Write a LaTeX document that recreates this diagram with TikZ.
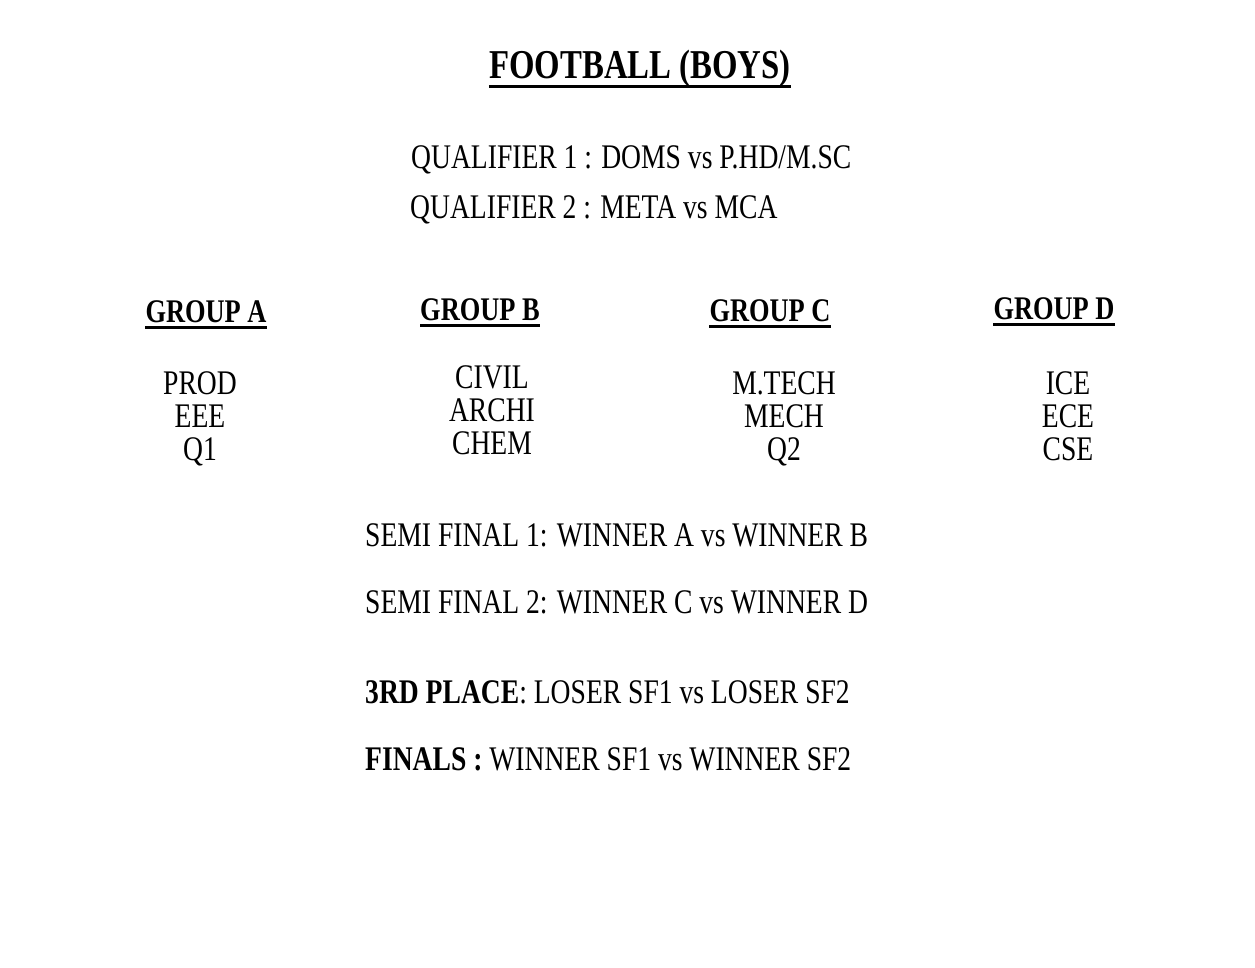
\documentclass[tikz,border=0pt]{standalone}
\usepackage{fontspec}
\setmainfont{Liberation Serif}[FakeStretch=0.8]
\usepackage{tikz}
\tikzstyle{title} = [inner sep=0pt, anchor=base, font=\fontsize{41}{41}\selectfont\bfseries]
\tikzstyle{qual} = [inner sep=0pt, anchor=base west, font=\fontsize{34.5}{34.5}\selectfont]
\tikzstyle{grouphead} = [inner sep=0pt, anchor=base, font=\fontsize{33}{33}\selectfont\bfseries]
\tikzstyle{team} = [inner sep=0pt, anchor=base, font=\fontsize{34.5}{34.5}\selectfont]
\tikzstyle{match} = [inner sep=0pt, anchor=base west, font=\fontsize{34.5}{34.5}\selectfont]
\tikzstyle{uline} = [line width=3pt]

\begin{document}
\begin{tikzpicture}[x=1pt, y=-1pt]
    \fill[white] (0,0) rectangle (1255,967);
    \useasboundingbox (0,0) rectangle (1255,967);

    \node[title] (title) at (640,78) {FOOTBALL (BOYS)};
    \draw[uline] ([yshift=-8pt]title.base west) -- ([yshift=-8pt]title.base east);

    % Qualifiers
    \node[qual] (q1) at (411,168) {QUALIFIER 1 : DOMS vs P.HD/M.SC};
    \node[qual] (q2) at (410,218) {QUALIFIER 2 : META vs MCA};

    % Groups
    \node[grouphead] (ga) at (206,322) {GROUP A};
    \node[grouphead] (gb) at (480,320) {GROUP B};
    \node[grouphead] (gc) at (770,321) {GROUP C};
    \node[grouphead] (gd) at (1054,319) {GROUP D};
    \foreach \g in {ga,gb,gc,gd}
        \draw[uline] ([yshift=-5pt]\g.base west) -- ([yshift=-5pt]\g.base east);

    \foreach \t [count=\i] in {PROD,EEE,Q1}
        \node[team] (a\i) at (200,{394+33*(\i-1)}) {\t};
    \foreach \t [count=\i] in {CIVIL,ARCHI,CHEM}
        \node[team] (b\i) at (492,{388+33*(\i-1)}) {\t};
    \foreach \t [count=\i] in {M.TECH,MECH,Q2}
        \node[team] (c\i) at (784,{394+33*(\i-1)}) {\t};
    \foreach \t [count=\i] in {ICE,ECE,CSE}
        \node[team] (d\i) at (1068,{394+33*(\i-1)}) {\t};

    % Knockouts
    \node[match] (sf1) at (365,546) {SEMI FINAL 1: WINNER A vs WINNER B};
    \node[match] (sf2) at (365,613) {SEMI FINAL 2: WINNER C vs WINNER D};
    \node[match] (third) at (365,703) {\textbf{3RD PLACE}: LOSER SF1 vs LOSER SF2};
    \node[match] (final) at (365,770) {\textbf{FINALS :} WINNER SF1 vs WINNER SF2};
\end{tikzpicture}
\end{document}
